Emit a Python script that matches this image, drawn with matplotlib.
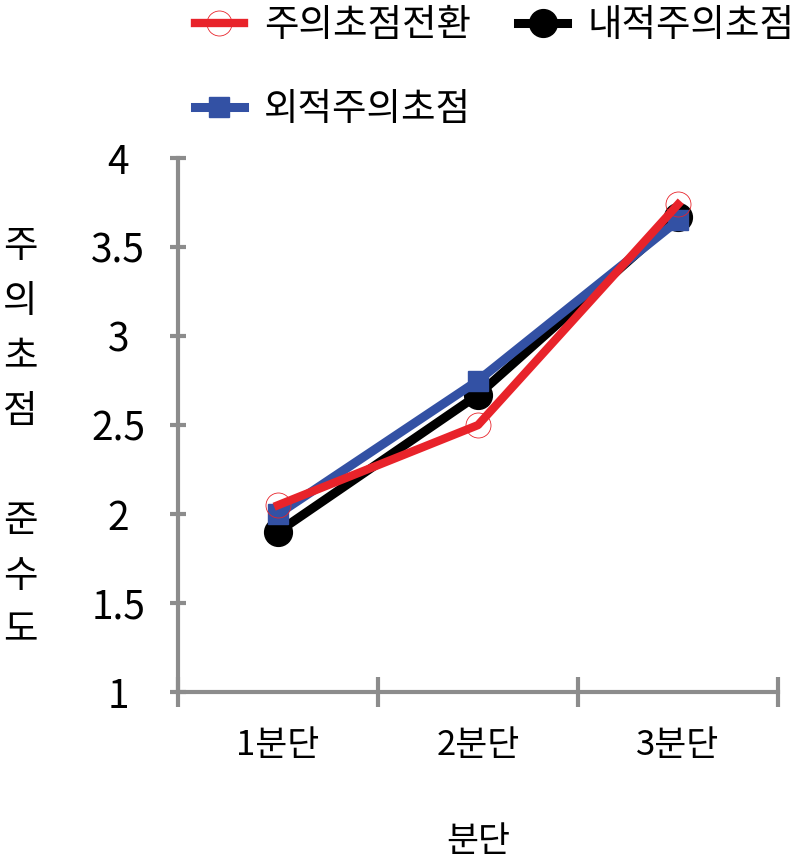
import numpy as np
import matplotlib
matplotlib.use("Agg")
from matplotlib import pyplot as plt
from matplotlib.ticker import FixedLocator

plt.rcParams['font.family'] = ['Noto Sans CJK KR', 'DejaVu Sans']

# Dati
categories = ["1분단", "2분단", "3분단"]
shift_focus = [2.05, 2.50, 3.74]      # 주의초점전환
internal_focus = [1.90, 2.67, 3.67]   # 내적주의초점
external_focus = [2.00, 2.75, 3.65]   # 외적주의초점

y_ticks = [1, 1.5, 2, 2.5, 3, 3.5, 4]
y_tick_labels = ["1", "1.5", "2", "2.5", "3", "3.5", "4"]

RED = "#E8232A"
BLUE = "#3351A4"
GRAY = "#8C8C8C"
FS = 25


def main() -> None:
    fig = plt.figure(figsize=(8, 8.64), dpi=100)
    ax = fig.add_axes([0.2225, 0.199, 0.75, 0.618])

    x = np.arange(len(categories))

    h_black, = ax.plot(x, internal_focus, "-o", color="black", lw=6.5,
                       markersize=20, label="내적주의초점", zorder=3)
    h_blue, = ax.plot(x, external_focus, "-s", color=BLUE, lw=6.5,
                      markersize=15, label="외적주의초점", zorder=4)
    h_red, = ax.plot(x, shift_focus, "-o", color=RED, lw=6,
                     markersize=18, markerfacecolor="none",
                     markeredgecolor=RED, markeredgewidth=0.6,
                     label="주의초점전환", zorder=5)

    ax.set_xlim(-0.5, 2.5)
    ax.set_ylim(1, 4)

    # Assi
    for side in ["top", "right"]:
        ax.spines[side].set_visible(False)
    for side in ["left", "bottom"]:
        ax.spines[side].set_color(GRAY)
        ax.spines[side].set_linewidth(3)

    ax.set_yticks(y_ticks)
    ax.set_yticklabels(y_tick_labels, fontsize=28, ha="center")
    ax.tick_params(axis="y", direction="inout", length=12, width=3,
                   color=GRAY, pad=37)

    ax.set_xticks(x)
    ax.set_xticklabels(categories, fontsize=FS)
    ax.tick_params(axis="x", which="major", length=0, pad=26)
    ax.xaxis.set_minor_locator(FixedLocator([-0.5, 0.5, 1.5, 2.5]))
    ax.tick_params(axis="x", which="minor", direction="inout", length=22,
                   width=3, color=GRAY)

    ax.set_xlabel("분단", fontsize=FS, labelpad=44)

    fig.text(0.004, 0.492, "주\n의\n초\n점\n\n준\n수\n도", fontsize=27,
             ha="left", va="center", linespacing=1.53)

    fig.legend(handles=[h_red, h_blue, h_black], ncol=2, frameon=False,
               fontsize=27, loc="upper left", bbox_to_anchor=(0.225, 1.01),
               handlelength=1.3, handletextpad=0.55, columnspacing=1.25,
               labelspacing=1.2, borderaxespad=0)

    plt.savefig("out.png")
    return


if __name__ == "__main__":
    main()
